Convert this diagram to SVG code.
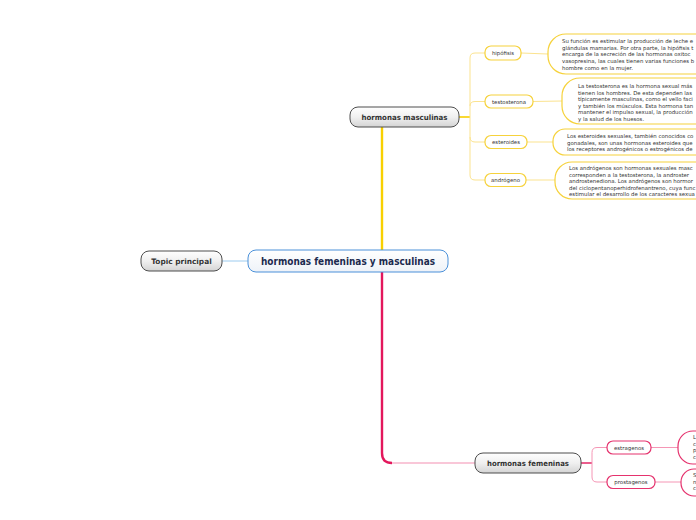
<svg xmlns="http://www.w3.org/2000/svg" width="696" height="520" viewBox="0 0 696 520">
<defs>
<linearGradient id="gGray" x1="0" y1="0" x2="0" y2="1">
<stop offset="0" stop-color="#ffffff"/>
<stop offset="0.5" stop-color="#f0f0f0"/>
<stop offset="1" stop-color="#d4d4d4"/>
</linearGradient>
<linearGradient id="gCenter" x1="0" y1="0" x2="0" y2="1">
<stop offset="0" stop-color="#ffffff"/>
<stop offset="1" stop-color="#eef2f8"/>
</linearGradient>
<style>
.main{fill:url(#gGray);stroke:#4d4d4d;stroke-width:1}
.mt{font-family:"DejaVu Sans",Verdana,sans-serif;font-weight:bold;font-size:7.4px;fill:#333;text-anchor:middle}
.ny{fill:#fff;stroke:#f6d23c;stroke-width:1.2}
.np{fill:#fff;stroke:#e5336e;stroke-width:1.2}
.ct{font-family:"DejaVu Sans",Verdana,sans-serif;font-size:5.4px;fill:#333;text-anchor:middle}
.lt{font-family:"DejaVu Sans",Verdana,sans-serif;font-size:5.4px;fill:#333}
.ly{fill:none;stroke:#fbe38f;stroke-width:1}
.lp{fill:none;stroke:#f596b5;stroke-width:1}
</style>
</defs>
<rect width="696" height="520" fill="#ffffff"/>

<g id="connectors">
<line x1="222" y1="261" x2="248" y2="261" stroke="#9ccbef" stroke-width="1"/>
<line x1="382" y1="250" x2="382" y2="127" stroke="#f8d000" stroke-width="2.4"/>
<path d="M382 272 V453 Q382 463 392 463" fill="none" stroke="#e3175c" stroke-width="2.4"/>
<line x1="392" y1="463" x2="475" y2="463" stroke="#f48fb1" stroke-width="1.2"/>
<line x1="459" y1="117" x2="470" y2="117" stroke="#f8d000" stroke-width="1.6"/>
<path class="ly" d="M485 53 H475 Q470 53 470 58 V175 Q470 180 475 180 H485"/>
<path class="ly" d="M470 106 Q470 101.5 475 101.5 H485"/>
<path class="ly" d="M470 137 Q470 142 475 142 H485"/>
<line class="ly" x1="521" y1="53" x2="548" y2="54"/>
<line class="ly" x1="533" y1="101.5" x2="562" y2="101"/>
<line class="ly" x1="527" y1="142" x2="553" y2="142"/>
<line class="ly" x1="526" y1="180" x2="555" y2="180"/>
<line x1="581" y1="463" x2="592" y2="463" stroke="#e3175c" stroke-width="1.4"/>
<path class="lp" d="M607 447.5 H597 Q592 447.5 592 452.5 V477 Q592 482 597 482 H607"/>
<line class="lp" x1="651" y1="447.5" x2="678" y2="447.5"/>
<line class="lp" x1="655" y1="482" x2="681" y2="482"/>
</g>

<g id="topic-principal">
<rect class="main" x="141" y="251" width="81" height="20" rx="8"/>
<text class="mt" x="181.5" y="263.7">Topic principal</text>
</g>

<g id="center">
<rect x="248" y="250" width="200" height="22" rx="8" fill="url(#gCenter)" stroke="#4a90d9" stroke-width="1"/>
<text x="348" y="264.5" font-family="'DejaVu Sans',Verdana,sans-serif" font-weight="bold" font-size="10px" fill="#1b2a4e" text-anchor="middle" textLength="174" lengthAdjust="spacingAndGlyphs">hormonas femeninas y masculinas</text>
</g>

<g id="hormonas-masculinas">
<rect class="main" x="350" y="107" width="109" height="20" rx="8"/>
<text class="mt" x="404.5" y="119.7" textLength="86" lengthAdjust="spacingAndGlyphs">hormonas masculinas</text>
</g>

<g id="hormonas-femeninas">
<rect class="main" x="475" y="453" width="106" height="20" rx="8"/>
<text class="mt" x="528" y="465.7" textLength="82" lengthAdjust="spacingAndGlyphs">hormonas femeninas</text>
</g>

<g id="hipofisis">
<rect class="ny" x="485" y="46" width="36" height="14" rx="6"/>
<text class="ct" x="503" y="55">hipófisis</text>
</g>
<g id="testosterona">
<rect class="ny" x="485" y="95" width="48" height="13" rx="6"/>
<text class="ct" x="509" y="103.5">testosterona</text>
</g>
<g id="esteroides">
<rect class="ny" x="485" y="135.5" width="42" height="13" rx="6"/>
<text class="ct" x="506" y="144">esteroides</text>
</g>
<g id="androgeno">
<rect class="ny" x="485" y="173.5" width="41" height="13" rx="6"/>
<text class="ct" x="505.5" y="182">andrógeno</text>
</g>

<g id="hipofisis-desc">
<rect class="ny" x="548" y="34" width="220" height="40" rx="18"/>
<text class="lt" x="562" y="43">Su función es estimular la producción de leche e</text>
<text class="lt" x="562" y="49.7">glándulas mamarias. Por otra parte, la hipófisis t</text>
<text class="lt" x="562" y="56.4">encarga de la secreción de las hormonas oxitoc</text>
<text class="lt" x="562" y="63.1">vasopresina, las cuales tienen varias funciones b</text>
<text class="lt" x="562" y="69.8">hombre como en la mujer.</text>
</g>
<g id="testosterona-desc">
<rect class="ny" x="562" y="78" width="220" height="46" rx="18"/>
<text class="lt" x="578" y="88">La testosterona es la hormona sexual más</text>
<text class="lt" x="578" y="94.5">tienen los hombres. De esta dependen las</text>
<text class="lt" x="578" y="101">típicamente masculinas, como el vello faci</text>
<text class="lt" x="578" y="107.5">y también los músculos. Esta hormona tan</text>
<text class="lt" x="578" y="114">mantener el impulso sexual, la producción</text>
<text class="lt" x="578" y="120.5">y la salud de los huesos.</text>
</g>
<g id="esteroides-desc">
<rect class="ny" x="553" y="129" width="220" height="26" rx="12"/>
<text class="lt" x="567" y="138">Los esteroides sexuales, también conocidos co</text>
<text class="lt" x="567" y="144.5">gonadales, son unas hormonas esteroides que</text>
<text class="lt" x="567" y="151">los receptores androgénicos o estrogénicos de</text>
</g>
<g id="androgeno-desc">
<rect class="ny" x="555" y="162" width="220" height="37" rx="17"/>
<text class="lt" x="569" y="170">Los andrógenos son hormonas sexuales masc</text>
<text class="lt" x="569" y="176.5">corresponden a la testosterona, la androster</text>
<text class="lt" x="569" y="183">androstenediona. Los andrógenos son hormor</text>
<text class="lt" x="569" y="189.5">del ciclopentanoperhidrofenantreno, cuya func</text>
<text class="lt" x="569" y="196">estimular el desarrollo de los caracteres sexua</text>
</g>

<g id="estragenos">
<rect class="np" x="607" y="441" width="44" height="13" rx="6"/>
<text class="ct" x="629" y="449.5">estragenos</text>
</g>
<g id="prostagenos">
<rect class="np" x="607" y="475.5" width="48" height="13" rx="6"/>
<text class="ct" x="631" y="484">prostagenos</text>
</g>
<g id="estragenos-desc">
<rect class="np" x="678" y="431" width="80" height="33" rx="15"/>
<text class="lt" x="693" y="439">L</text>
<text class="lt" x="693" y="445.5">c</text>
<text class="lt" x="693" y="452">p</text>
<text class="lt" x="693" y="458.5">c</text>
</g>
<g id="prostagenos-desc">
<rect class="np" x="681" y="469" width="80" height="27" rx="13"/>
<text class="lt" x="693" y="477">S</text>
<text class="lt" x="693" y="483.5">n</text>
<text class="lt" x="693" y="490">c</text>
</g>
</svg>
